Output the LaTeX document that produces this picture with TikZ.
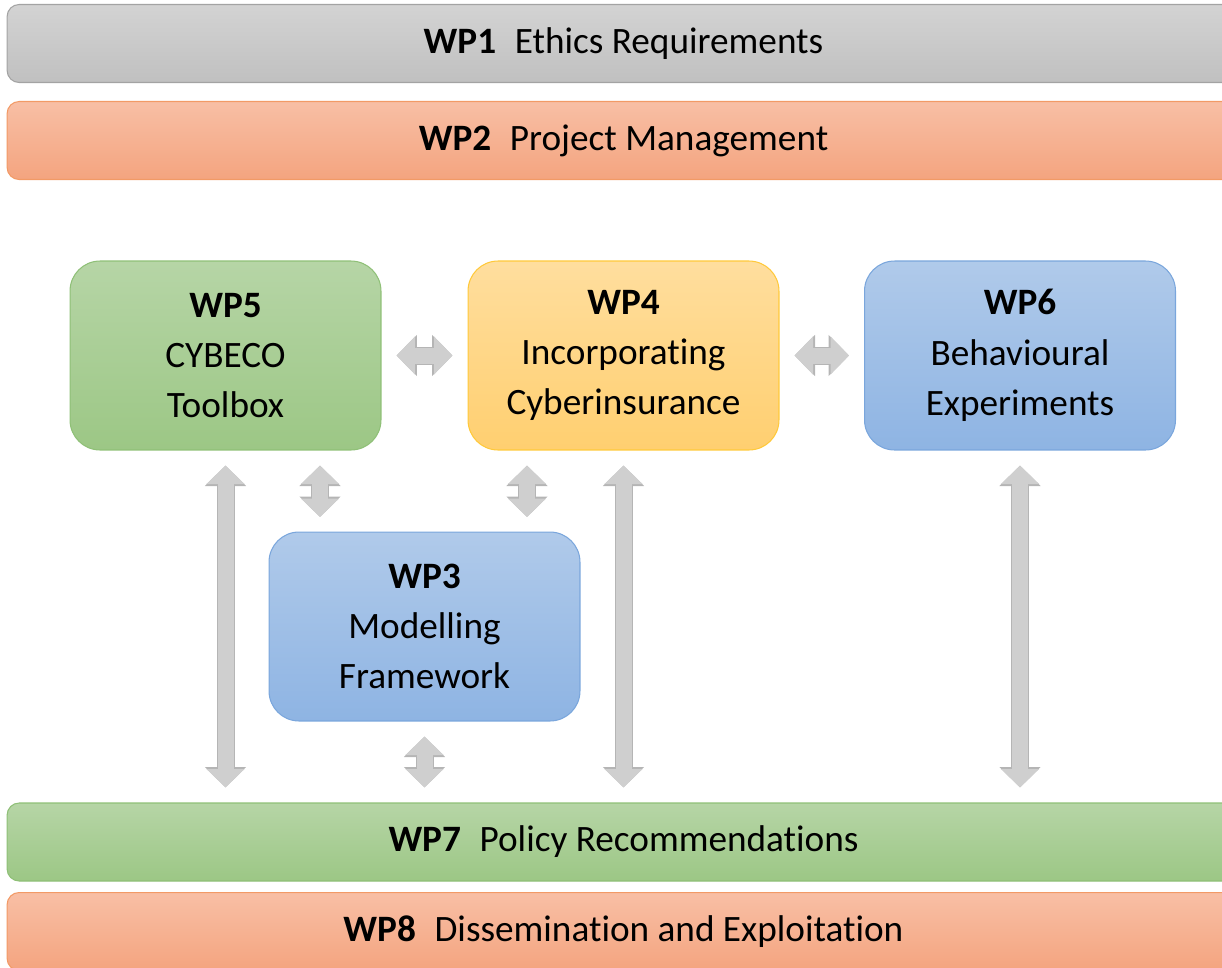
\documentclass[tikz,border=0pt]{standalone}
\usepackage{fontspec}
\setmainfont{Carlito}[Ligatures=CommonOff]
\usetikzlibrary{arrows.meta,positioning}

\definecolor{greytop}{HTML}{D3D3D3}
\definecolor{greybot}{HTML}{C0C0C0}
\definecolor{greyline}{HTML}{A3A3A3}
\definecolor{orangetop}{HTML}{F8BFA5}
\definecolor{orangebot}{HTML}{F4A47F}
\definecolor{orangeline}{HTML}{F29A66}
\definecolor{greentop}{HTML}{B6D5A6}
\definecolor{greenbot}{HTML}{9CC785}
\definecolor{greenline}{HTML}{8FC077}
\definecolor{yellowtop}{HTML}{FFDE9E}
\definecolor{yellowbot}{HTML}{FFCF70}
\definecolor{yellowline}{HTML}{FFC93A}
\definecolor{bluetop}{HTML}{B0CAEA}
\definecolor{bluebot}{HTML}{8EB4E3}
\definecolor{blueline}{HTML}{7AA6DC}
\definecolor{arrowfill}{HTML}{CFCFCF}
\definecolor{arrowline}{HTML}{B5B5B5}

\newcommand{\wpfont}{\fontsize{21.2}{28.6}\selectfont}

\tikzset{
  wpbar/.style={rounded corners=0.24cm, minimum width=24.66cm, minimum height=1.56cm,
    inner sep=0pt, font=\wpfont, line width=0.6pt},
  wpbox/.style={rounded corners=0.6cm, minimum width=6.22cm, minimum height=3.78cm,
    inner sep=0pt, align=center, font=\wpfont, line width=0.6pt},
  greyfill/.style={top color=greytop, bottom color=greybot, draw=greyline},
  orangefill/.style={top color=orangetop, bottom color=orangebot, draw=orangeline},
  greenfill/.style={top color=greentop, bottom color=greenbot, draw=greenline},
  yellowfill/.style={top color=yellowtop, bottom color=yellowbot, draw=yellowline},
  bluefill/.style={top color=bluetop, bottom color=bluebot, draw=blueline},
  conn/.style={draw=arrowfill, line width=0.32cm,
    {Triangle[width=0.74cm,length=0.37cm]}-{Triangle[width=0.74cm,length=0.37cm]},
    shorten >=0.3cm, shorten <=0.3cm,
    preaction={draw=arrowline, line width=0.36cm,
      {Triangle[width=0.80cm,length=0.41cm]}-{Triangle[width=0.80cm,length=0.41cm]},
      shorten >=0.3cm, shorten <=0.3cm}}
}

\begin{document}
\begin{tikzpicture}[x=0.02cm, y=-0.02cm]
  \useasboundingbox (0,0) rectangle (1222,967);
  \clip (0,0) rectangle (1222,967);

  % bars across the whole width
  \node[wpbar, greyfill] (wp1) at (623.5,43.5) {\textbf{WP1}\enspace Ethics Requirements};
  \node[wpbar, orangefill] (wp2) at (623.5,140.5) {\textbf{WP2}\enspace Project Management};
  \node[wpbar, greenfill] (wp7) at (623.5,842) {\textbf{WP7}\enspace Policy Recommendations};
  \node[wpbar, orangefill] (wp8) at (623.5,931.5) {\textbf{WP8}\enspace Dissemination and Exploitation};

  % work packages in the middle
  \node[wpbox, greenfill] (wp5) at (225.5,355.5) {\textbf{WP5}\\CYBECO\\Toolbox};
  \node[wpbox, yellowfill] (wp4) at (623.5,355.5) {\textbf{WP4}\\Incorporating\\Cyberinsurance};
  \node[wpbox, bluefill] (wp6) at (1020,355.5) {\textbf{WP6}\\Behavioural\\Experiments};
  \node[wpbox, bluefill] (wp3) at (424.5,626.5) {\textbf{WP3}\\Modelling\\Framework};

  \coordinate (l3) at (320,532);
  \coordinate (r3) at (527,532);

  \draw[conn] (wp5.east) -- (wp4.west);
  \draw[conn] (wp4.east) -- (wp6.west);
  \draw[conn] (l3 |- wp5.south) -- (l3);
  \draw[conn] (r3 |- wp4.south) -- (r3);
  \draw[conn] (wp3.south) -- (wp3.south |- wp7.north);
  \foreach \n in {wp5,wp4,wp6}
  {
    \draw[conn] (\n.south) -- (\n.south |- wp7.north);
  }
\end{tikzpicture}
\end{document}
